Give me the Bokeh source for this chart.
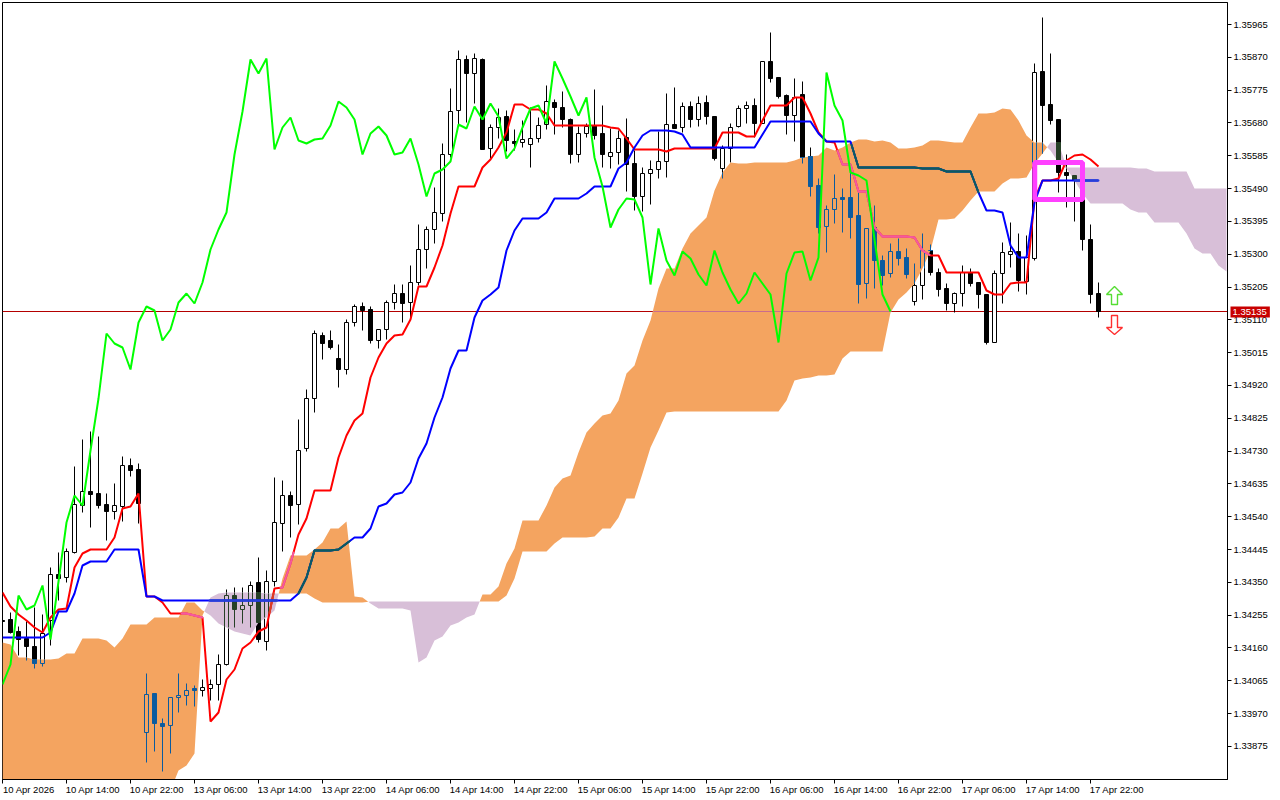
from bokeh.plotting import figure
from bokeh.embed import file_html
from bokeh.resources import INLINE
from bokeh.models import FixedTicker, PrintfTickFormatter, Span, Label
import numpy as np

# hourly quotes, in points (1e-5 of a price unit)
opens = [134243,134246,134211,134191,134168,134119,134243,134376,134368,134440,
134576,134616,134610,134578,134558,134573,134691,134680,133920,134032,
133946,133940,134021,134027,134047,134041,134047,134058,134116,134315,
134275,134287,134353,134183,134356,134523,134604,134578,134740,134885,
135067,135052,135001,134969,135104,135151,135142,135052,135084,135162,
135188,135162,135219,135314,135372,135419,135589,135716,135864,135823,
135864,135607,135667,135699,135627,135624,135618,135636,135676,135739,
135725,135690,135589,135650,135673,135650,135583,135595,135638,135563,
135468,135534,135546,135569,135676,135667,135728,135690,135739,135699,
135549,135607,135670,135722,135731,135679,135858,135812,135760,135702,
135763,135583,135500,135381,135430,135465,135465,135413,135216,135378,
135283,135246,135309,135292,135165,135211,135312,135248,135202,135159,
135188,135248,135219,135185,135046,135245,135300,135309,135222,135289,
135829,135734,135690,135537,135529,135514,135344,135188]
highs = [134246,134266,134226,134240,134281,134261,134397,134440,134451,134688,
134766,134789,134775,134610,134639,134717,134711,134697,134090,134032,
133960,134021,134090,134061,134055,134073,134073,134145,134333,134339,
134339,134356,134425,134388,134656,134648,134616,134824,134911,135081,
135075,135081,135041,135113,135156,135162,135151,135084,135168,135213,
135213,135268,135387,135381,135494,135621,135780,135890,135875,135881,
135867,135676,135722,135716,135661,135687,135725,135696,135789,135748,
135771,135693,135670,135679,135777,135731,135664,135658,135693,135601,
135552,135572,135656,135765,135783,135739,135742,135757,135760,135699,
135615,135679,135731,135742,135751,135858,135942,135812,135763,135809,
135800,135609,135520,135442,135531,135491,135563,135480,135375,135442,
135297,135332,135347,135318,135274,135361,135329,135260,135216,135191,
135268,135260,135219,135185,135254,135335,135393,135361,135355,135852,
135985,135881,135690,135589,135529,135534,135387,135219]
lows = [134237,134206,134142,134128,134105,134110,134171,134301,134353,134437,
134555,134512,134567,134474,134535,134529,134659,134524,133833,133865,
133807,133859,133977,133998,133995,134024,134012,134012,134113,134223,
134235,134223,134180,134157,134342,134443,134483,134521,134732,134844,
134997,135026,134917,134954,135093,135081,135044,135029,135055,135142,
135104,135119,135211,135260,135332,135396,135581,135673,135682,135737,
135604,135578,135636,135598,135601,135610,135552,135624,135661,135647,
135667,135563,135566,135638,135633,135552,135549,135560,135482,135428,
135425,135445,135520,135523,135664,135653,135667,135670,135676,135572,
135520,135566,135667,135679,135638,135679,135797,135751,135647,135627,
135563,135468,135361,135306,135390,135364,135347,135159,135173,135202,
135211,135234,135268,135231,135153,135171,135240,135179,135139,135133,
135151,135208,135145,135041,135046,135159,135263,135193,135185,135283,
135592,135676,135480,135436,135396,135312,135159,135119]
closes = [134240,134209,134188,134168,134119,134206,134376,134365,134443,134578,
134616,134607,134576,134558,134576,134691,134677,134581,134029,133946,
133937,134021,134027,134041,134041,134050,134058,134116,134315,134275,
134287,134344,134188,134356,134526,134604,134576,134734,134885,135072,
135044,135032,134969,135104,135151,135139,135052,135084,135162,135188,
135159,135219,135314,135372,135422,135589,135713,135864,135823,135867,
135604,135667,135696,135630,135621,135633,135636,135673,135742,135725,
135690,135589,135650,135670,135644,135589,135595,135636,135560,135468,
135534,135546,135569,135676,135664,135728,135690,135736,135699,135578,
135607,135667,135722,135731,135679,135858,135809,135757,135702,135754,
135581,135497,135378,135430,135462,135459,135407,135213,135375,135283,
135240,135309,135289,135243,135211,135312,135248,135199,135159,135188,
135248,135216,135185,135046,135245,135306,135309,135225,135292,135826,
135731,135688,135537,135529,135514,135344,135185,135135]

tenkan = [134324,134284,134261,134243,134223,134209,134252,134275,134278,134397,
134437,134448,134448,134448,134483,134567,134573,134610,134313,134313,
134295,134263,134263,134263,134258,134252,133951,133977,134073,134102,
134162,134180,134211,134223,134336,134339,134408,134492,134538,134619,
134619,134619,134714,134778,134821,134841,134945,135003,135044,135067,
135070,135113,135208,135208,135263,135326,135419,135497,135497,135497,
135552,135575,135610,135653,135734,135734,135719,135719,135708,135673,
135673,135673,135673,135673,135673,135673,135667,135664,135636,135604,
135604,135604,135604,135598,135607,135607,135607,135607,135607,135607,
135653,135653,135653,135641,135641,135687,135731,135731,135731,135754,
135754,135708,135653,135627,135624,135560,135560,135482,135482,135378,
135352,135352,135352,135352,135349,135312,135297,135297,135248,135248,
135248,135248,135248,135196,135185,135185,135217,135219,135219,135459,
135514,135514,135520,135572,135586,135589,135575,135555]
kijun = [134194,134194,134194,134194,134194,134194,134209,134269,134269,134321,
134402,134413,134413,134413,134448,134448,134448,134448,134313,134313,
134301,134301,134301,134301,134301,134301,134301,134301,134301,134301,
134301,134301,134301,134301,134301,134301,134301,134321,134368,134446,
134446,134446,134448,134466,134483,134483,134509,134573,134581,134607,
134613,134642,134711,134755,134829,134887,134971,135023,135023,135119,
135168,135185,135205,135312,135370,135404,135404,135404,135422,135462,
135462,135462,135462,135477,135497,135497,135497,135549,135566,135610,
135644,135658,135658,135658,135656,135647,135610,135610,135610,135610,
135610,135610,135610,135610,135610,135647,135684,135684,135684,135684,
135684,135684,135650,135627,135627,135627,135627,135552,135552,135552,
135552,135552,135552,135552,135552,135549,135549,135549,135540,135540,
135540,135540,135479,135427,135427,135422,135326,135292,135292,135451,
135514,135514,135514,135514,135514,135514,135514,135514]
senkou_a = [134180,134174,134136,134136,134131,134131,134131,134134,134148,134148,
134191,134191,134191,134186,134166,134191,134232,134232,134232,134252,
134252,134252,134252,134295,134295,134272,134258,134235,134223,134211,
134206,134200,134237,134252,134272,134365,134431,134431,134431,134448,
134468,134509,134509,134529,134313,134310,134293,134278,134278,134278,
134278,134272,134122,134136,134186,134197,134229,134237,134252,134261,
134318,134318,134342,134408,134451,134532,134532,134532,134576,134628,
134654,134662,134729,134787,134812,134835,134841,134879,134957,134980,
135052,135110,135202,135260,135260,135318,135361,135384,135407,135485,
135537,135566,135563,135563,135566,135566,135566,135566,135566,135572,
135581,135583,135586,135610,135601,135610,135624,135633,135633,135627,
135630,135624,135607,135607,135610,135615,135630,135630,135627,135624,
135624,135667,135708,135708,135711,135722,135719,135687,135644,135624,
135624,135601,135566,135549,135514,135477,135448,135448,135448,135448,
135448,135430,135422,135422,135393,135393,135393,135393,135361,135318,
135303,135303,135269,135251]
senkou_b = [133752,133752,133752,133752,133752,133752,133752,133752,133752,133752,
133752,133752,133752,133752,133752,133752,133752,133752,133752,133752,
133752,133752,133810,133825,133859,134258,134310,134321,134324,134324,
134324,134324,134324,134321,134321,134321,134321,134321,134321,134307,
134295,134295,134295,134295,134295,134295,134298,134298,134298,134298,
134298,134298,134298,134298,134298,134298,134298,134298,134298,134298,
134298,134298,134298,134315,134365,134443,134443,134443,134443,134466,
134483,134483,134483,134483,134486,134509,134509,134541,134596,134596,
134668,134743,134792,134844,134847,134847,134847,134847,134847,134847,
134847,134847,134847,134847,134847,134847,134847,134847,134879,134937,
134942,134945,134951,134951,134954,135000,135020,135020,135020,135020,
135020,135133,135171,135191,135217,135260,135312,135401,135401,135404,
135427,135456,135482,135482,135482,135505,135520,135520,135523,135563,
135592,135624,135624,135552,135552,135552,135552,135552,135552,135552,
135552,135552,135549,135549,135540,135540,135540,135540,135540,135491,
135491,135491,135491,135491]

price_ticks = [133875,133970,134065,134160,134255,134350,134445,134540,134635,134730,
134825,134920,135015,135110,135205,135300,135395,135490,135585,135680,135775,135870,135965]
time_labels = ["10 Apr 2026","10 Apr 14:00","10 Apr 22:00","13 Apr 06:00","13 Apr 14:00","13 Apr 22:00",
"14 Apr 06:00","14 Apr 14:00","14 Apr 22:00","15 Apr 06:00","15 Apr 14:00","15 Apr 22:00",
"16 Apr 06:00","16 Apr 14:00","16 Apr 22:00","17 Apr 06:00","17 Apr 14:00","17 Apr 22:00"]
last_price = 135135
box_bars = (129.03, 135.0)
box_prices = (135567, 135459)
up_arrow = (139, 135208, 135185, 135156)
down_arrow = (139, 135124, 135090, 135069)

ORANGE, PURPLE = "#f4a460", "#d8bfd8"
ON_ORANGE, ON_PURPLE = "#0b5b9f", "#274027"

PX = 8.0            # pixels per bar
SCALE = 2.895       # points per pixel of the reference's price axis
TOP_TICK = 135965   # price of the top tick


def P(v):
    """Readings above were taken at 2.888 points a pixel; put them on the axis' own 2.895,
    on the terminal's whole-pixel price steps."""
    v = np.asarray(v, dtype=float)
    return (TOP_TICK - (np.round((136034.3 - v) / 2.888) - 24.0) * SCALE) / 1e5


o, h, l, c = map(P, (opens, highs, lows, closes))
a, b = P(senkou_a), P(senkou_b)
bars = np.arange(len(o))
cloud_x = np.arange(len(a))

p = figure(frame_width=1225, frame_height=777, output_backend="svg", toolbar_location=None,
           x_range=(0.0, 1225 / PX),
           y_range=((TOP_TICK - 755 * SCALE) / 1e5, (TOP_TICK + 22 * SCALE) / 1e5),
           y_axis_location="right", min_border_left=2, min_border_top=2,
           min_border_right=45, min_border_bottom=16, background_fill_color="white")
p.styles = {"position": "absolute", "left": "0px", "top": "0px"}
p.grid.visible = False
p.outline_line_color = "black"
p.outline_line_width = 1

FONT = "Liberation Sans"
FS = "9.5px"
yax = p.yaxis[0]
yax.ticker = FixedTicker(ticks=[t / 1e5 for t in price_ticks])
yax.formatter = PrintfTickFormatter(format="%.5f")
yax.major_tick_in, yax.major_tick_out, yax.minor_tick_in, yax.minor_tick_out = 0, 4, 0, 0
yax.major_label_standoff = 2
yax.major_label_text_font = FONT
yax.major_label_text_font_size = FS
yax.major_label_text_color = "black"
yax.axis_line_color = "black"

LABEL_SHIFT = 3.3
tick_bars = [8 * k for k in range(len(time_labels))]
label_pos = [t + LABEL_SHIFT for t in tick_bars]
xax = p.xaxis[0]
xax.ticker = FixedTicker(ticks=label_pos, minor_ticks=tick_bars)
xax.major_label_overrides = {pos: txt for pos, txt in zip(label_pos, time_labels)}
xax.major_tick_in, xax.major_tick_out = 0, 0
xax.minor_tick_in, xax.minor_tick_out = 0, 4
xax.minor_tick_line_color = "black"
xax.major_label_standoff = 0
xax.major_label_text_font = FONT
xax.major_label_text_font_size = FS
xax.major_label_text_color = "black"
xax.axis_line_color = "black"

last_level = float(P(last_price))
p.add_layout(Span(location=last_level, dimension="width", line_color="#b40000", line_width=1, level="underlay"))

HW = 0.25
up = c >= o
body_hi, body_lo = np.maximum(o, c), np.minimum(o, c)
p.segment(bars, h, bars, l, line_color="black", line_width=1)
p.quad(left=bars - HW, right=bars + HW, top=body_hi, bottom=body_lo,
       fill_color=["white" if u else "black" for u in up], line_color="black", line_width=1)

# cloud, split at the crossings of the two spans
xs, ya, yb = [], [], []
for i in range(len(a)):
    xs.append(float(i)); ya.append(a[i]); yb.append(b[i])
    if i + 1 < len(a) and (a[i] - b[i]) * (a[i + 1] - b[i + 1]) < 0:
        t = (a[i] - b[i]) / ((a[i] - b[i]) - (a[i + 1] - b[i + 1]))
        xs.append(i + t); v = a[i] + t * (a[i + 1] - a[i]); ya.append(v); yb.append(v)
xs, ya, yb = np.array(xs), np.array(ya), np.array(yb)
p.varea(xs, ya, np.where(ya >= yb, yb, ya), fill_color=ORANGE)
p.varea(xs, ya, np.where(ya <= yb, yb, ya), fill_color=PURPLE)

# parts of the candles over the cloud (the terminal inverts colours there)
sx0, sy0, sy1, sc = [], [], [], []
hx, hy, hc = [], [], []
qi, qt, qb, qc = [], [], [], []
for i in bars:
    lo, hi = min(a[i], b[i]), max(a[i], b[i])
    col = ON_ORANGE if a[i] >= b[i] else ON_PURPLE
    for s0, s1 in ((body_hi[i], h[i]), (l[i], body_lo[i])):
        y0, y1 = max(s0, lo), min(s1, hi)
        if y1 > y0:
            sx0.append(i); sy0.append(y0); sy1.append(y1); sc.append(col)
    y0, y1 = max(body_lo[i], lo), min(body_hi[i], hi)
    if y1 >= y0:
        if up[i]:
            for dx in (-HW, HW):
                sx0.append(i + dx); sy0.append(y0); sy1.append(y1); sc.append(col)
            for edge in (body_lo[i], body_hi[i]):
                if lo <= edge <= hi:
                    hx.append(i); hy.append(edge); hc.append(col)
        else:
            qi.append(i); qt.append(y1); qb.append(y0); qc.append(col)
p.segment(sx0, sy0, sx0, sy1, line_color=sc, line_width=1)
if hx:
    hx = np.array(hx, dtype=float)
    p.segment(hx - HW, hy, hx + HW, hy, line_color=hc, line_width=1)
qi = np.array(qi, dtype=float)
p.quad(left=qi - HW, right=qi + HW, top=qt, bottom=qb, fill_color=qc, line_color=qc, line_width=1)

fine = np.arange(0, len(a) - 1, 1 / PX)
fa, fb = np.interp(fine, cloud_x, a), np.interp(fine, cloud_x, b)


def over_cloud(series, on_orange, on_purple, width):
    """Recolour the stretches of a line that run over the cloud."""
    xv = fine[fine <= len(series) - 1 - 1 / PX]
    v0 = np.interp(xv, np.arange(len(series)), series)
    v1 = np.interp(xv + 1 / PX, np.arange(len(series)), series)
    A, B = fa[: len(xv)], fb[: len(xv)]
    inside = (v0 >= np.minimum(A, B)) & (v0 <= np.maximum(A, B))
    cols = [on_orange if A[k] >= B[k] else on_purple for k in range(len(xv))]
    idx = np.where(inside)[0]
    p.segment(xv[idx], v0[idx], xv[idx] + 1 / PX, v1[idx],
              line_color=[cols[k] for k in idx], line_width=width, line_cap="round")


last = np.full(len(fine), last_level)
inside = (fa >= fb) & (last <= fa) & (last >= fb)
p.segment(fine[inside], last[inside], fine[inside] + 1 / PX, last[inside], line_color="#bb5b9f", line_width=1)

t_ = P(tenkan)
k_ = P(kijun)
p.line(np.arange(len(t_)), t_, line_color="#ff0000", line_width=2)
over_cloud(t_, "#f45b9f", "#d84027", 2)
p.line(np.arange(len(k_)), k_, line_color="#0000ff", line_width=2)
over_cloud(k_, "#0b5b60", "#2740d8", 2)
# chikou span: the closes drawn 26 bars back
chikou = c[26:]
p.line(np.arange(len(chikou)), chikou, line_color="#00ff00", line_width=2)

up_px = P([up_arrow[1], up_arrow[2], up_arrow[2], up_arrow[3], up_arrow[3], up_arrow[2], up_arrow[2]])
dn_px = P([down_arrow[3], down_arrow[2], down_arrow[2], down_arrow[1], down_arrow[1], down_arrow[2], down_arrow[2]])
arrow_x = np.array([0, 1, 0.375, 0.375, -0.375, -0.375, -1])
p.patch(up_arrow[0] + arrow_x, up_px, fill_color="white", line_color="#55dd33", line_width=1.4)
p.patch(down_arrow[0] + arrow_x, dn_px, fill_color="white", line_color="#ff3030", line_width=1.4)

p.quad(left=box_bars[0], right=box_bars[1], top=P(box_prices[0]), bottom=P(box_prices[1]),
       fill_color=None, line_color="#ff40ff", line_width=5)

# price tag on the axis: drawn from the side panel so it is not held to the plot frame
tag = Label(x=1230, x_units="canvas", y=311.5, y_units="canvas",
            text=f"{last_price/1e5:.5f}", text_color="white", text_font=FONT, text_font_size=FS,
            text_baseline="middle", text_align="left", level="overlay",
            background_fill_color="#c80000", background_fill_alpha=1.0, padding=(2, 3, 2, 3))
p.add_layout(tag, "right")

open("out.html", "w").write(file_html(p, INLINE))
